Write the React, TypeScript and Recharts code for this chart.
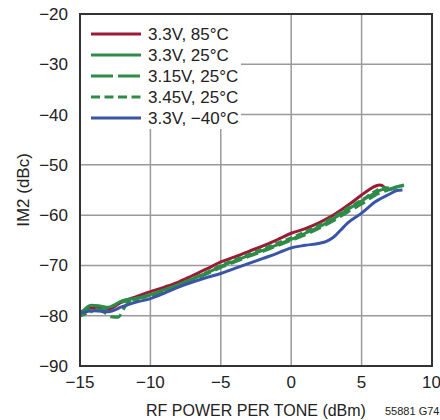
import { LineChart, Line, XAxis, YAxis, CartesianGrid, Legend, ReferenceArea } from "recharts";

const xTicks = [-15, -10, -5, 0, 5, 10];
const yTicks = [-90, -80, -70, -60, -50, -40, -30, -20];

// [RF power per tone (dBm), IM2 (dBc)]
const v33t85: [number, number][] = [
  [-15, -79.3], [-14, -78.4], [-13, -78.7], [-12, -77.2], [-11, -76.2], [-10, -75.2],
  [-9, -74.3], [-8, -73.3], [-7, -72.0], [-6, -70.7], [-5, -69.3], [-4, -68.3],
  [-3, -67.2], [-2, -66.1], [-1, -64.9], [0, -63.6], [1, -62.7], [2, -61.5],
  [3, -60.0], [4, -58.1], [5, -56.0], [5.5, -55.0], [6, -54.2], [6.3, -54.0],
  [6.6, -54.4], [6.8, -55.1],
];
const v33t25: [number, number][] = [
  [-15, -79.7], [-14.2, -77.9], [-13.5, -78.1], [-13, -78.3], [-12, -77.0], [-11, -76.5],
  [-10, -75.8], [-9, -74.8], [-8, -73.8], [-7, -72.7], [-6, -71.5], [-5, -70.2],
  [-4, -69.1], [-3, -68.0], [-2, -67.0], [-1, -65.9], [0, -64.8], [1, -63.6],
  [2, -62.3], [3, -60.7], [4, -58.9], [5, -57.2], [6, -55.5], [6.5, -54.9],
  [7, -54.8], [7.5, -54.4], [8, -54.0],
];
const v315t25: [number, number][] = [
  [-15, -79.9], [-14, -78.6], [-13.3, -79.3], [-12.8, -80.2], [-12.3, -80.3], [-11.8, -78.2],
  [-11.3, -76.8], [-10, -76.1], [-9, -75.1], [-8, -74.0], [-7, -72.9], [-6, -71.7],
  [-5, -70.4], [-4, -69.3], [-3, -68.2], [-2, -67.2], [-1, -66.1], [0, -65.0],
  [1, -63.9], [2, -62.6], [3, -61.1], [4, -59.4], [5, -57.8], [6, -56.0],
  [7, -54.9], [8, -54.1],
];
const v345t25: [number, number][] = [
  [-15, -80.1], [-14, -79.0], [-13, -78.4], [-12, -77.3], [-11, -76.8], [-10, -75.9],
  [-9, -74.9], [-8, -73.8], [-7, -72.6], [-6, -71.4], [-5, -70.0], [-4, -68.9],
  [-3, -67.8], [-2, -66.7], [-1, -65.6], [0, -64.5], [1, -63.3], [2, -62.0],
  [3, -60.4], [4, -58.6], [5, -57.0], [6, -55.2], [6.5, -54.5], [7, -54.6],
  [8, -53.9],
];
const v33tm40: [number, number][] = [
  [-15, -79.5], [-14, -79.0], [-13, -79.2], [-12, -78.2], [-11, -77.3], [-10, -76.6],
  [-9, -75.5], [-8, -74.3], [-7, -73.3], [-6, -72.4], [-5, -71.6], [-4, -70.6],
  [-3, -69.6], [-2, -68.6], [-1, -67.6], [0, -66.5], [1, -66.0], [2, -65.6],
  [2.5, -65.2], [3, -64.4], [3.5, -63.0], [4, -61.6], [5, -59.6], [6, -57.3],
  [7, -55.8], [7.5, -55.1], [7.9, -55.0],
];

const RED = "#9b1b35";
const GREEN = "#2e8b48";
const BLUE = "#3a55a8";
const FONT = '"Liberation Sans", Arial, sans-serif';

const series = [
  { name: "3.3V, 85°C", data: v33t85, color: RED, dash: undefined, legendDash: undefined },
  { name: "3.3V, 25°C", data: v33t25, color: GREEN, dash: undefined, legendDash: undefined },
  { name: "3.15V, 25°C", data: v315t25, color: GREEN, dash: "12 5", legendDash: "22 5" },
  { name: "3.45V, 25°C", data: v345t25, color: GREEN, dash: "7 4", legendDash: "9 4.5" },
  { name: "3.3V, −40°C", data: v33tm40, color: BLUE, dash: undefined, legendDash: undefined },
];

const toRows = (pts: [number, number][]) => pts.map(([x, y]) => ({ x, y }));

const fmt = (v: number) => (v < 0 ? `−${-v}` : `${v}`);

function LegendBox() {
  return (
    <div style={{ background: "#fff", width: 160, height: 114, fontFamily: FONT }}>
      <svg width={160} height={114} style={{ display: "block" }}>
        {series.map((s, i) => {
          const y = 19 + i * 21;
          return (
            <g key={s.name}>
              <line x1={10} x2={60} y1={y} y2={y} stroke={s.color} strokeWidth={3} strokeDasharray={s.legendDash} />
              <text x={67} y={y + 6} fontSize={17} fill="#222" fontFamily={FONT}>
                {s.name}
              </text>
            </g>
          );
        })}
      </svg>
    </div>
  );
}

export default function App() {
  return (
    <div style={{ position: "absolute", left: 0, top: 0, width: 440, height: 420, background: "#fff" }}>
      <LineChart width={440} height={420} margin={{ top: 14, right: 8, bottom: 0, left: 0 }}>
        <CartesianGrid stroke="#9a9a9a" strokeWidth={1.5} />
        <XAxis
          type="number"
          dataKey="x"
          domain={[-15, 10]}
          ticks={xTicks}
          tickFormatter={fmt}
          allowDataOverflow
          height={54}
          tickLine={false}
          tickMargin={4}
          axisLine={{ stroke: "#333", strokeWidth: 2 }}
          tick={{ fill: "#222", fontSize: 17, fontFamily: FONT }}
          label={{ value: "RF POWER PER TONE (dBm)", position: "insideBottom", offset: 4, fill: "#222", fontSize: 16, fontFamily: FONT }}
        />
        <YAxis
          type="number"
          domain={[-90, -20]}
          ticks={yTicks}
          tickFormatter={fmt}
          allowDataOverflow
          width={80}
          tickLine={false}
          tickMargin={6}
          axisLine={{ stroke: "#333", strokeWidth: 2 }}
          tick={{ fill: "#222", fontSize: 17, fontFamily: FONT }}
          label={{ value: "IM2 (dBc)", angle: -90, position: "insideLeft", offset: 23, fill: "#222", fontSize: 17, fontFamily: FONT, style: { textAnchor: "middle" } }}
        />
        <ReferenceArea x1={-15} x2={10} y1={-90} y2={-20} fill="none" stroke="#333" strokeWidth={2} />
        {series.map((s) => (
          <Line
            key={s.name}
            data={toRows(s.data)}
            dataKey="y"
            name={s.name}
            type="monotone"
            stroke={s.color}
            strokeWidth={3}
            strokeDasharray={s.dash}
            dot={false}
            isAnimationActive={false}
          />
        ))}
        <Legend
          layout="horizontal"
          verticalAlign="middle"
          align="center"
          content={() => <LegendBox />}
          wrapperStyle={{ position: "absolute", left: 81, top: 15, width: 160, height: 114 }}
        />
      </LineChart>
      <div style={{ position: "absolute", left: 385, top: 405, fontSize: 11, fontFamily: FONT, color: "#222" }}>
        55881 G74
      </div>
    </div>
  );
}
